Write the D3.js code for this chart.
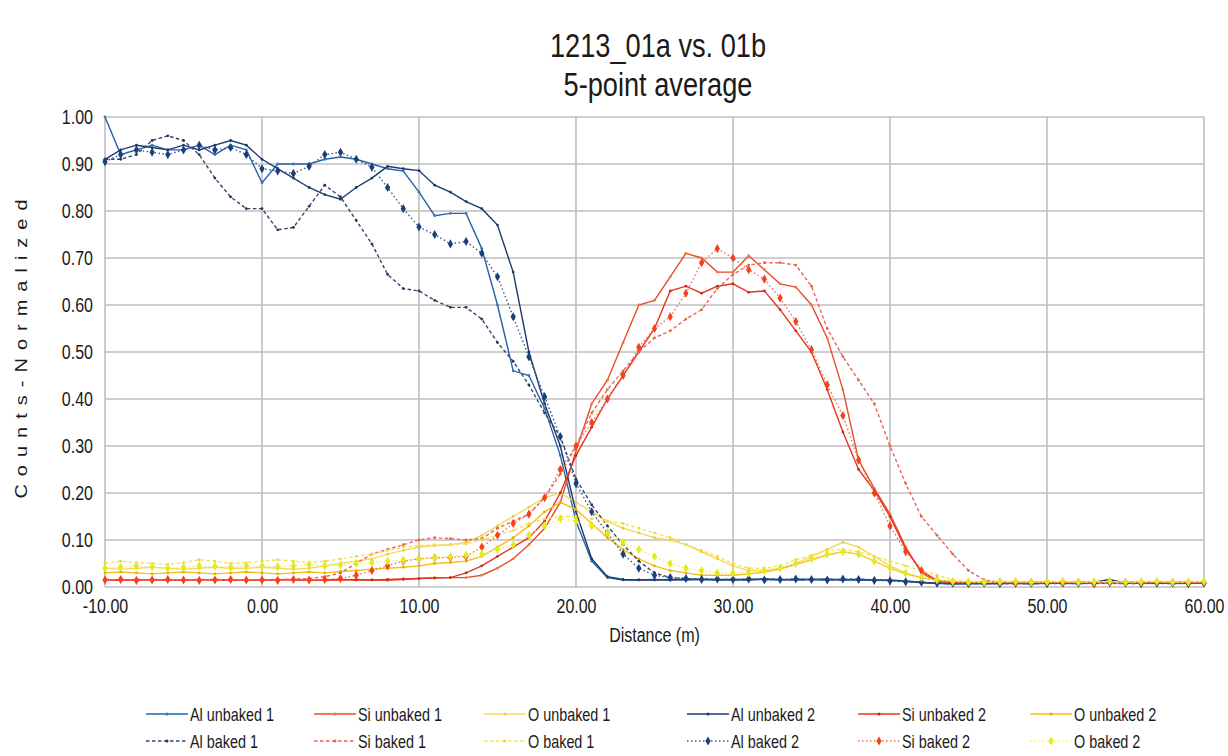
<!DOCTYPE html>
<html><head><meta charset="utf-8">
<script src="https://cdn.jsdelivr.net/npm/d3@7"></script>
<style>
body{margin:0;background:#fff;}
svg{display:block;}
text{font-family:"Liberation Sans", Arial, sans-serif; fill:#1a1a1a;}
</style>
</head><body>
<svg id="chart" width="1228" height="756"></svg>
<script>
// ---------------- data ----------------
const titleLines = ["1213_01a vs. 01b", "5-point average"];
const xTitle = "Distance (m)";
const yTitle = "Counts-Normalized";
const xTicks = [-10, 0, 10, 20, 30, 40, 50, 60];
const yTicks = [0, 0.1, 0.2, 0.3, 0.4, 0.5, 0.6, 0.7, 0.8, 0.9, 1.0];

const distance = [-10,-9,-8,-7,-6,-5,-4,-3,-2,-1,
  0,1,2,3,4,5,6,7,8,9,
  10,11,12,13,14,15,16,17,18,19,
  20,21,22,23,24,25,26,27,28,29,
  30,31,32,33,34,35,36,37,38,39,
  40,41,42,43,44,45,46,47,48,49,
  50,51,52,53,54,55,56,57,58,59,60];

const alUnbaked1 = [1.00,0.92,0.93,0.94,0.93,0.93,0.94,0.92,0.94,0.93,
  0.86,0.90,0.90,0.90,0.91,0.915,0.91,0.90,0.89,0.885,
  0.84,0.79,0.795,0.795,0.72,0.60,0.46,0.45,0.38,0.28,
  0.14,0.055,0.02,0.015,0.015,0.016,0.015,0.017,0.015,0.016,
  0.015,0.017,0.016,0.015,0.017,0.016,0.015,0.016,0.015,0.014,
  0.015,0.013,0.010,0.008,0.007,0.008,0.007,0.008,0.008,0.007,
  0.009,0.008,0.007,0.009,0.012,0.008,0.008,0.009,0.008,0.009,0.010];
const siUnbaked1 = [0.015,0.014,0.016,0.015,0.014,0.015,0.016,0.015,0.014,0.015,
  0.014,0.015,0.016,0.015,0.014,0.015,0.016,0.015,0.014,0.016,
  0.018,0.020,0.020,0.020,0.025,0.040,0.060,0.090,0.125,0.180,
  0.290,0.390,0.440,0.520,0.600,0.610,0.660,0.710,0.700,0.670,
  0.670,0.705,0.675,0.645,0.638,0.600,0.530,0.420,0.270,0.210,
  0.155,0.085,0.030,0.012,0.010,0.009,0.010,0.009,0.008,0.009,
  0.010,0.009,0.008,0.009,0.010,0.009,0.010,0.009,0.010,0.010,0.011];
const oUnbaked1 = [0.040,0.038,0.040,0.042,0.040,0.038,0.040,0.042,0.040,0.040,
  0.042,0.040,0.038,0.040,0.045,0.050,0.055,0.060,0.070,0.078,
  0.085,0.088,0.090,0.095,0.110,0.130,0.150,0.170,0.190,0.200,
  0.180,0.160,0.140,0.125,0.115,0.105,0.100,0.090,0.075,0.060,
  0.045,0.035,0.035,0.040,0.050,0.065,0.080,0.095,0.085,0.065,
  0.045,0.030,0.020,0.015,0.012,0.010,0.011,0.010,0.012,0.011,
  0.010,0.012,0.011,0.010,0.012,0.011,0.010,0.012,0.011,0.010,0.012];
const alUnbaked2 = [0.91,0.93,0.94,0.935,0.93,0.94,0.93,0.94,0.95,0.94,
  0.91,0.89,0.87,0.85,0.835,0.825,0.85,0.87,0.895,0.89,
  0.886,0.855,0.84,0.82,0.805,0.77,0.67,0.50,0.39,0.30,
  0.16,0.06,0.022,0.016,0.015,0.015,0.016,0.015,0.017,0.015,
  0.016,0.015,0.017,0.016,0.015,0.016,0.017,0.015,0.016,0.015,
  0.014,0.012,0.009,0.008,0.007,0.007,0.008,0.007,0.008,0.007,
  0.008,0.009,0.008,0.010,0.016,0.008,0.009,0.008,0.009,0.008,0.009];
const siUnbaked2 = [0.016,0.015,0.014,0.016,0.015,0.014,0.015,0.016,0.015,0.014,
  0.015,0.016,0.015,0.014,0.015,0.016,0.015,0.015,0.016,0.017,
  0.018,0.019,0.020,0.030,0.045,0.065,0.085,0.105,0.140,0.200,
  0.280,0.340,0.400,0.450,0.500,0.550,0.630,0.640,0.625,0.640,
  0.645,0.627,0.630,0.590,0.545,0.500,0.420,0.330,0.250,0.205,
  0.150,0.080,0.035,0.013,0.010,0.009,0.010,0.009,0.010,0.009,
  0.009,0.010,0.009,0.010,0.009,0.010,0.009,0.010,0.009,0.010,0.010];
const oUnbaked2 = [0.030,0.032,0.030,0.028,0.030,0.032,0.030,0.028,0.030,0.032,
  0.030,0.028,0.030,0.032,0.030,0.033,0.035,0.038,0.040,0.042,
  0.045,0.050,0.052,0.055,0.065,0.085,0.105,0.130,0.160,0.180,
  0.165,0.135,0.105,0.080,0.060,0.045,0.035,0.030,0.025,0.025,
  0.025,0.028,0.032,0.038,0.048,0.058,0.068,0.075,0.070,0.055,
  0.040,0.028,0.020,0.014,0.012,0.011,0.010,0.012,0.011,0.010,
  0.011,0.010,0.012,0.011,0.010,0.011,0.012,0.010,0.011,0.012,0.011];
const alBaked1 = [0.91,0.91,0.92,0.95,0.96,0.95,0.92,0.87,0.83,0.805,
  0.805,0.76,0.765,0.81,0.855,0.83,0.78,0.73,0.665,0.635,
  0.63,0.61,0.595,0.595,0.57,0.52,0.48,0.43,0.37,0.32,
  0.23,0.175,0.13,0.09,0.055,0.03,0.02,0.018,0.017,0.016,
  0.016,0.015,0.017,0.016,0.015,0.016,0.015,0.016,0.017,0.015,
  0.014,0.012,0.010,0.008,0.007,0.008,0.007,0.008,0.007,0.008,
  0.008,0.007,0.009,0.008,0.008,0.007,0.008,0.008,0.007,0.008,0.008];
const siBaked1 = [0.015,0.016,0.015,0.014,0.016,0.015,0.014,0.016,0.015,0.015,
  0.016,0.015,0.017,0.018,0.022,0.030,0.050,0.070,0.080,0.090,
  0.100,0.105,0.103,0.100,0.103,0.125,0.140,0.155,0.190,0.240,
  0.300,0.370,0.420,0.460,0.500,0.530,0.545,0.570,0.590,0.635,
  0.665,0.685,0.690,0.690,0.685,0.640,0.550,0.490,0.440,0.390,
  0.300,0.220,0.150,0.110,0.070,0.035,0.015,0.010,0.009,0.010,
  0.009,0.010,0.009,0.010,0.009,0.008,0.009,0.010,0.009,0.010,0.009];
const oBaked1 = [0.050,0.055,0.052,0.050,0.048,0.052,0.058,0.055,0.050,0.052,
  0.055,0.058,0.055,0.052,0.055,0.060,0.065,0.070,0.078,0.085,
  0.088,0.090,0.090,0.092,0.100,0.110,0.120,0.135,0.145,0.150,
  0.150,0.145,0.140,0.135,0.125,0.115,0.105,0.090,0.078,0.065,
  0.050,0.040,0.040,0.045,0.058,0.068,0.078,0.080,0.075,0.065,
  0.055,0.045,0.035,0.025,0.015,0.012,0.011,0.012,0.010,0.011,
  0.012,0.011,0.010,0.012,0.011,0.010,0.011,0.012,0.011,0.010,0.012];
const alBaked2 = [0.905,0.92,0.93,0.925,0.92,0.93,0.94,0.93,0.935,0.92,
  0.89,0.885,0.88,0.895,0.92,0.925,0.91,0.893,0.85,0.805,
  0.766,0.75,0.73,0.735,0.71,0.66,0.575,0.49,0.405,0.32,
  0.22,0.16,0.115,0.07,0.04,0.025,0.02,0.018,0.016,0.017,
  0.016,0.017,0.015,0.016,0.017,0.016,0.015,0.017,0.016,0.014,
  0.013,0.011,0.010,0.008,0.008,0.007,0.008,0.007,0.008,0.008,
  0.007,0.008,0.008,0.007,0.009,0.008,0.007,0.008,0.008,0.007,0.008];
const siBaked2 = [0.015,0.016,0.014,0.015,0.016,0.015,0.014,0.015,0.016,0.015,
  0.015,0.014,0.016,0.015,0.016,0.018,0.025,0.035,0.045,0.055,
  0.060,0.062,0.063,0.065,0.085,0.110,0.135,0.155,0.190,0.250,
  0.300,0.350,0.400,0.450,0.510,0.550,0.575,0.625,0.690,0.720,
  0.700,0.675,0.655,0.615,0.565,0.505,0.430,0.365,0.270,0.200,
  0.130,0.075,0.035,0.015,0.010,0.009,0.010,0.010,0.009,0.010,
  0.010,0.009,0.010,0.009,0.010,0.010,0.009,0.010,0.010,0.009,0.010];
const oBaked2 = [0.040,0.042,0.045,0.043,0.040,0.042,0.045,0.044,0.042,0.045,
  0.045,0.043,0.045,0.048,0.045,0.047,0.050,0.052,0.055,0.057,
  0.060,0.062,0.065,0.068,0.070,0.080,0.090,0.110,0.130,0.145,
  0.140,0.130,0.115,0.095,0.080,0.065,0.050,0.040,0.035,0.030,
  0.030,0.030,0.035,0.040,0.050,0.060,0.070,0.075,0.070,0.055,
  0.040,0.030,0.020,0.015,0.012,0.011,0.010,0.011,0.012,0.010,
  0.011,0.012,0.010,0.011,0.012,0.010,0.011,0.012,0.010,0.011,0.012];

const seriesNames = ["Al unbaked 1","Si unbaked 1","O unbaked 1","Al unbaked 2","Si unbaked 2","O unbaked 2",
                     "Al baked 1","Si baked 1","O baked 1","Al baked 2","Si baked 2","O baked 2"];
const seriesValues = [alUnbaked1, siUnbaked1, oUnbaked1, alUnbaked2, siUnbaked2, oUnbaked2,
                      alBaked1, siBaked1, oBaked1, alBaked2, siBaked2, oBaked2];

// ---------------- styles ----------------
const styles = [
  {stroke:"#2563A8", dash:null, marker:"dot", mfill:"#3A78C0"},
  {stroke:"#EA4A30", dash:null, marker:"dot", mfill:"#F07A30"},
  {stroke:"#F4DA55", dash:null, marker:"dot", mfill:"#F0C840"},
  {stroke:"#1D3A6E", dash:null, marker:"dot", mfill:"#1D3A6E"},
  {stroke:"#E4361F", dash:null, marker:"dot", mfill:"#C0301A"},
  {stroke:"#F6BE1A", dash:null, marker:"dot", mfill:"#F0A800"},
  {stroke:"#34456E", dash:"3.5,2.5", marker:"dot", mfill:"#2A3550"},
  {stroke:"#F06060", dash:"3.5,2.5", marker:"dot", mfill:"#E07030"},
  {stroke:"#F4E25A", dash:"3.5,2.5", marker:"dot", mfill:"#F0D840"},
  {stroke:"#3A5A8A", dash:"1.5,2.5", marker:"diamond", mfill:"#1A3F7A"},
  {stroke:"#F07050", dash:"1.5,2.5", marker:"diamond", mfill:"#F5401A"},
  {stroke:"#F0F060", dash:"1.5,2.5", marker:"diamond", mfill:"#E0EC20"}
];

// ---------------- layout ----------------
const W = 1228, H = 756;
const plot = {left:105, right:1204, top:117, bottom:587};
const SX = 0.8; // horizontal text compression

const svg = d3.select("#chart");
svg.append("rect").attr("width",W).attr("height",H).attr("fill","#fff");

const x = d3.scaleLinear().domain([-10,60]).range([plot.left, plot.right]);
const y = d3.scaleLinear().domain([0,1]).range([plot.bottom, plot.top]);
const fmt = d => d3.format(".2f")(d).replace("\u2212","-");

function txt(g, tx, ty, s, size, anchor){
  return g.append("text")
    .attr("transform", `translate(${tx},${ty}) scale(${SX},1)`)
    .attr("text-anchor", anchor || "start")
    .attr("font-size", size)
    .text(s);
}

// gridlines
const grid = svg.append("g");
grid.selectAll("line.h").data(yTicks).join("line")
  .attr("x1", plot.left).attr("x2", plot.right)
  .attr("y1", d=>y(d)).attr("y2", d=>y(d))
  .attr("stroke","#BFBFBF").attr("stroke-width",1.6);
grid.selectAll("line.v").data(xTicks).join("line")
  .attr("y1", plot.top).attr("y2", plot.bottom)
  .attr("x1", d=>x(d)).attr("x2", d=>x(d))
  .attr("stroke","#BFBFBF").attr("stroke-width",1.6);

// axes
const yAxis = svg.append("g").attr("transform",`translate(${plot.left},0)`)
  .call(d3.axisLeft(y).tickValues(yTicks).tickFormat(fmt).tickSize(0).tickPadding(12));
yAxis.select(".domain").remove();
yAxis.selectAll("text").attr("font-size",20)
  .attr("font-family","Liberation Sans, Arial, sans-serif").attr("fill","#1a1a1a")
  .attr("transform",`scale(${SX},1)`).attr("x", -12/SX);

const xAxis = svg.append("g").attr("transform",`translate(0,${plot.bottom})`)
  .call(d3.axisBottom(x).tickValues(xTicks).tickFormat(fmt).tickSize(0).tickPadding(12));
xAxis.select(".domain").remove();
xAxis.selectAll("text").attr("font-size",20)
  .attr("font-family","Liberation Sans, Arial, sans-serif").attr("fill","#1a1a1a")
  .attr("transform",`scale(${SX},1)`);

// series
const line = d3.line().x(d=>x(d.x)).y(d=>y(d.y));
const diamond = d3.symbol().type(d3.symbolDiamond).size(24);
const seriesG = svg.append("g");
seriesNames.forEach((name,i)=>{
  const pts = distance.map((d,j)=>({x:d, y:seriesValues[i][j]}));
  const st = styles[i];
  const g = seriesG.append("g");
  g.append("path").attr("d", line(pts)).attr("fill","none")
    .attr("stroke", st.stroke).attr("stroke-width",1.4)
    .attr("stroke-dasharray", st.dash);
  if (st.marker === "diamond") {
    g.selectAll("path.m").data(pts).join("path").attr("class","m")
      .attr("d", diamond).attr("transform", d=>`translate(${x(d.x)},${y(d.y)})`)
      .attr("fill", st.mfill);
  } else {
    g.selectAll("circle").data(pts).join("circle")
      .attr("cx", d=>x(d.x)).attr("cy", d=>y(d.y)).attr("r",1.4)
      .attr("fill", st.mfill);
  }
});

// titles
txt(svg, 658, 57, titleLines[0], 34, "middle");
txt(svg, 658, 96, titleLines[1], 34, "middle");
txt(svg, (plot.left+plot.right)/2, 642, xTitle, 20, "middle");
svg.append("text")
  .attr("transform", `translate(27,345) rotate(-90) scale(1,${SX})`)
  .attr("text-anchor","middle").attr("font-size",20).attr("letter-spacing",8)
  .text(yTitle);

// legend
const legCols = [146, 314, 484, 687, 858, 1030];
const legRows = [714, 741];
const leg = svg.append("g");
seriesNames.forEach((name,i)=>{
  const col = i % 6, row = Math.floor(i/6);
  const x0 = legCols[col], yy = legRows[row];
  const st = styles[i];
  leg.append("line").attr("x1",x0).attr("x2",x0+42).attr("y1",yy).attr("y2",yy)
    .attr("stroke",st.stroke).attr("stroke-width",1.4).attr("stroke-dasharray",st.dash);
  if (st.marker === "diamond") {
    leg.append("path").attr("d",diamond).attr("transform",`translate(${x0+21},${yy})`).attr("fill",st.mfill);
  } else {
    leg.append("circle").attr("cx",x0+21).attr("cy",yy).attr("r",1.6).attr("fill",st.mfill);
  }
  txt(leg, x0+44, yy+6.5, name, 18, "start");
});
</script>
</body></html>
